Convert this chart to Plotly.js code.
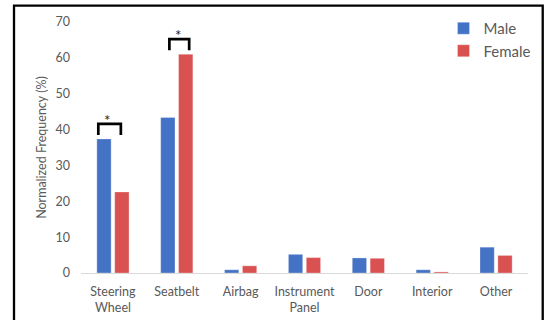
<!DOCTYPE html>
<html>
<head>
<meta charset="utf-8">
<script src="https://cdn.plot.ly/plotly-3.0.1.min.js"></script>
<style>
  html, body { margin: 0; padding: 0; background: #ffffff; }
  #chart { width: 546px; height: 320px; }
</style>
</head>
<body>
<div id="chart"></div>
<script>
// Injury source categories (two-line labels use <br>)
const categories = ['Steering<br>Wheel', 'Seatbelt', 'Airbag', 'Instrument<br>Panel', 'Door', 'Interior', 'Other'];
const maleValues = [37.4, 43.4, 0.9, 5.2, 4.2, 0.9, 7.2];
const femaleValues = [22.6, 61.0, 2.0, 4.3, 4.1, 0.3, 4.9];
const yTickValues = [0, 10, 20, 30, 40, 50, 60, 70];

// Categories with a significant male/female difference
const significantIdx = [0, 1];
// Bracket leg offsets (category units) for each marked category
const bracketLeft = [-0.229, -0.116];
const bracketRight = [0.124, 0.194];
const starOffset = [-0.086, 0.02];

const maleColor = '#4472C4';
const femaleColor = '#DA5151';
const textColor = '#595959';
const fontFamily = 'Lato, "Open Sans", sans-serif';

const traces = [
  {
    type: 'bar', name: 'Male', x: categories, y: maleValues, legendgroup: 'm',
    marker: { color: maleColor, line: { color: 'rgba(255,255,255,0.5)', width: 0.6 } }
  },
  {
    type: 'bar', name: 'Female', x: categories, y: femaleValues, legendgroup: 'f',
    marker: { color: femaleColor, line: { color: 'rgba(255,255,255,0.5)', width: 0.6 } }
  }
];

// Significance brackets sit just above the taller bar of each pair
const shapes = [];
const annotations = [];
significantIdx.forEach((ci, k) => {
  const top = Math.max(maleValues[ci], femaleValues[ci]);
  const yBottom = top + 1.1;
  const yTop = top + 4.2;
  const xl = ci + bracketLeft[k];
  const xr = ci + bracketRight[k];
  shapes.push({
    type: 'path', xref: 'x', yref: 'y',
    path: `M ${xl} ${yBottom} L ${xl} ${yTop} L ${xr} ${yTop} L ${xr} ${yBottom}`,
    line: { color: '#000000', width: 2.7 }
  });
  annotations.push({
    xref: 'x', yref: 'y', x: ci + starOffset[k], y: yTop,
    yanchor: 'bottom', yshift: -7, showarrow: false,
    text: '*', font: { family: fontFamily, size: 15, color: '#222222' }
  });
});

// Outer black frame around the whole figure
shapes.push({
  type: 'rect', xref: 'paper', yref: 'paper',
  x0: (14.5 - 81.4) / 446.4, x1: (542.5 - 81.4) / 446.4,
  y0: (272.7 - 340) / 250.7, y1: (272.7 - 5.7) / 250.7,
  line: { color: '#000000', width: 2.3 }, fillcolor: 'rgba(0,0,0,0)'
});

const layout = {
  width: 546, height: 320,
  margin: { l: 81.4, r: 18.2, t: 22, b: 47.3, autoexpand: false },
  paper_bgcolor: '#ffffff', plot_bgcolor: '#ffffff',
  font: { family: fontFamily, color: textColor, size: 12 },
  barmode: 'group', bargap: 0.44, bargroupgap: 0.2,
  showlegend: true,
  legend: {
    x: 1.019, y: 1.04, xanchor: 'right', yanchor: 'top',
    xref: 'paper', yref: 'paper',
    font: { family: fontFamily, size: 15, color: textColor },
    bgcolor: 'rgba(0,0,0,0)', itemwidth: 30, tracegroupgap: 7,
    traceorder: 'normal'
  },
  xaxis: {
    type: 'category', showgrid: false, zeroline: false,
    showline: true, linecolor: '#D9D9D9', linewidth: 1,
    ticks: '', tickfont: { family: fontFamily, size: 12.5, color: textColor },
    ticklabelstandoff: 7, fixedrange: true
  },
  yaxis: {
    range: [0, 70], tickvals: yTickValues, ticktext: yTickValues.map(String),
    showgrid: false, zeroline: false, showline: false, ticks: '',
    tickfont: { family: fontFamily, size: 12.5, color: textColor },
    ticklabelstandoff: 10,
    title: { text: 'Normalized Frequency (%)', font: { family: fontFamily, size: 12.5, color: textColor }, standoff: 6 },
    fixedrange: true
  },
  shapes: shapes,
  annotations: annotations
};

Plotly.newPlot('chart', traces, layout, { displayModeBar: false, staticPlot: true });
</script>
</body>
</html>
